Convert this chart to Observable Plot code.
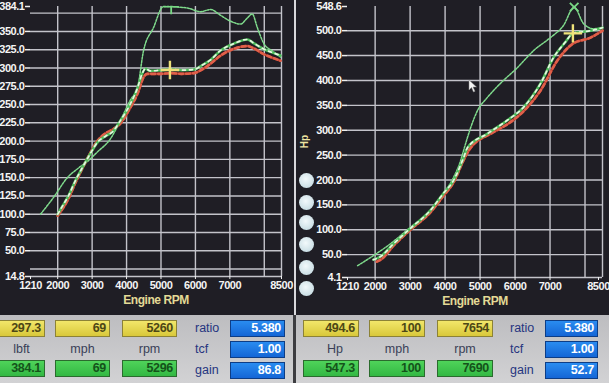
<!DOCTYPE html>
<html><head><meta charset="utf-8">
<script src="https://cdn.jsdelivr.net/npm/d3@7"></script>
<script src="https://cdn.jsdelivr.net/npm/@observablehq/plot@0.6"></script>
<style>
html,body{margin:0;padding:0;background:#1f1e25;}
#wrap{position:relative;width:609px;height:383px;overflow:hidden;background:#1f1e25;
  font-family:"Liberation Sans",Arial,sans-serif;}
.panel{position:absolute;top:0;}
#divider{position:absolute;left:294px;top:0;width:2px;height:315px;background:#d8d8dc;}
#bottom{position:absolute;left:0;top:315px;width:609px;height:68px;background:linear-gradient(#bdbdc0,#d2d2d4);}
#bdiv{position:absolute;left:293px;top:315px;width:3px;height:68px;background:#3c3c40;}
.box{position:absolute;height:17px;box-sizing:border-box;border:1px solid #6f6a3a;text-align:right;
  padding-right:3px;font-weight:bold;font-size:12.5px;line-height:15px;letter-spacing:-0.3px;}
.yel{background:linear-gradient(#f2e66a,#d9c83a);color:#4d4716;border-color:#8c8236;}
.grn{background:linear-gradient(#4fd35a,#33b843);color:#14531a;border-color:#2b6b2e;}
.blu{background:linear-gradient(#2a8cf0,#1466d6);color:#ffffff;border-color:#0d3d86;}
.lab{position:absolute;font-size:12.5px;line-height:15px;text-align:center;color:#3a3f58;}
.blab{position:absolute;font-size:12.5px;line-height:15px;color:#263580;}
.circ{position:absolute;width:15px;height:15px;border-radius:50%;
  background:radial-gradient(circle at 45% 40%,#f2f9fb,#bcd5dd);}
#hp{position:absolute;left:298px;top:136px;color:#efe6a2;font-size:10px;font-weight:bold;transform:rotate(-90deg);}
</style></head>
<body><div id="wrap"></div>
<script>
// ---------- axis ticks / grid ----------
const rpmTicks = [1210, 2000, 3000, 4000, 5000, 6000, 7000];
const rpmEndTick = [8500];
const rpmGrid = [2000, 3000, 4000, 5000, 6000, 7000, 8000, 8500];
const tqTicks = [14.8, 50, 75, 100, 125, 150, 175, 200, 225, 250, 275, 300, 325, 350, 384.1];
const tqGrid = [25, 50, 75, 100, 125, 150, 175, 200, 225, 250, 275, 300, 325, 350, 375];
const hpTicks = [4.1, 50, 100, 150, 200, 250, 300, 350, 400, 450, 500, 548.6];
const hpGrid = [50, 100, 150, 200, 250, 300, 350, 400, 450, 500];

// ---------- torque (lbft) ----------
const tqThinRpm = [1500, 1880, 2280, 2600, 2860, 3150, 3530, 3820, 4110, 4320, 4490, 4780, 5070, 5300, 5560, 5770, 6150, 6440, 6730, 7020, 7310, 7500, 7650, 7800, 7980, 8240, 8470];
const tqThinVal = [100, 123, 150, 163, 172, 185, 203, 228, 256, 273, 323, 355, 384, 384, 383, 382, 377, 380, 372, 364, 360, 368, 374, 355, 334, 323, 315];
const tqDashRpm = [2000, 2150, 2310, 2515, 2720, 2950, 3150, 3400, 3600, 3820, 4100, 4320, 4450, 4550, 4690, 5000, 5300, 5600, 5960, 6200, 6440, 6730, 7100, 7510, 7690, 7980, 8240, 8470];
const tqDashVal = [100, 112, 125, 146, 164, 183, 198, 207, 213, 228, 250, 273, 292, 299, 296, 297, 298, 297, 298, 304, 311, 324, 333, 339, 334, 326, 321, 317];
const tqRedRpm = [2000, 2150, 2310, 2515, 2720, 2950, 3150, 3400, 3600, 3820, 4100, 4320, 4500, 4600, 5000, 5300, 5600, 5960, 6200, 6440, 6730, 7100, 7510, 7690, 7980, 8240, 8470];
const tqRedVal = [98, 108, 121, 143, 163, 184, 200, 211, 216, 224, 245, 265, 288, 292, 292, 293, 292, 293, 298, 306, 317, 326, 330, 327, 319, 314, 310];

// ---------- power (Hp) ----------
const hpThinRpm = [1500, 1950, 2440, 3010, 3500, 3870, 4240, 4440, 4540, 4730, 4930, 5210, 5580, 6070, 6530, 7010, 7380, 7690, 7960, 8240, 8500];
const hpThinVal = [28, 48, 72, 105, 133, 165, 205, 238, 262, 305, 340, 366, 394, 426, 460, 486, 510, 547, 514, 504, 506];
const hpDashRpm = [1950, 2150, 2500, 3010, 3580, 3950, 4240, 4530, 4640, 5210, 5780, 6240, 6730, 7100, 7450, 7654, 8160, 8500];
const hpDashVal = [40, 46, 70, 103, 139, 173, 199, 245, 265, 293, 320, 346, 394, 446, 478, 494.6, 500, 506];
const hpRedRpm = [2050, 2200, 2500, 3010, 3580, 3950, 4240, 4530, 4700, 5380, 5780, 6240, 6730, 7210, 7654, 8160, 8500];
const hpRedVal = [36, 42, 66, 100, 135, 168, 195, 240, 262, 296, 312, 338, 380, 440, 474, 486, 500];

// ---------- readouts ----------
const tqCursor = ["297.3", "69", "5260"];
const tqPeak = ["384.1", "69", "5296"];
const tqNames = ["lbft", "mph", "rpm"];
const tqSettings = ["5.380", "1.00", "86.8"];
const hpCursor = ["494.6", "100", "7654"];
const hpPeak = ["547.3", "100", "7690"];
const hpNames = ["Hp", "mph", "rpm"];
const hpSettings = ["5.380", "1.00", "52.7"];
const settingNames = ["ratio", "tcf", "gain"];

const zip = (xs, ys) => xs.map((x, i) => ({rpm: x, v: ys[i]}));
const FONT = '"Liberation Sans",Arial,sans-serif';
const GRID = "#c3c3ca";

function chart({w, ml, mr, ydom, yTicks, yGrid, thin, dash, red, cursor, peak, peakSymbol, peakR, peakClip, endDx}) {
  return Plot.plot({
    width: w, height: 315,
    marginLeft: ml, marginRight: mr, marginTop: 6, marginBottom: 315 - (ydom[2]),
    style: {background: "transparent", color: "#f4f4f4", fontFamily: FONT, fontSize: "11px", fontWeight: "bold", letterSpacing: "-0.45px", overflow: "visible"},
    x: {domain: [1210, 8500]},
    y: {domain: [ydom[0], ydom[1]]},
    marks: [
      Plot.ruleY(yGrid, {stroke: GRID, strokeWidth: 1.4}),
      Plot.ruleX(rpmGrid, {stroke: GRID, strokeWidth: 1.4}),
      Plot.ruleY([ydom[0]], {stroke: GRID, strokeWidth: 1.6}),
      Plot.axisY(yTicks, {tickFormat: d => d.toFixed(1), tickSize: 5, tickPadding: 1, label: null, stroke: "#eeeeee", strokeWidth: 1.5}),
      Plot.axisX(rpmTicks, {tickFormat: d => String(d), tickSize: 3, tickPadding: 2, label: null, stroke: "#eeeeee"}),
      Plot.axisX(rpmEndTick, {tickFormat: d => String(d), tickSize: 3, tickPadding: 2, label: null, stroke: "#eeeeee", dx: endDx}),
      Plot.text(["Engine RPM"], {text: d => d, frameAnchor: "bottom", dy: 27, fill: "#e4da96", fontSize: 12}),
      Plot.line(thin, {x: "rpm", y: "v", stroke: "#7fda8c", strokeWidth: 1.5, strokeDasharray: "2,1.4", curve: "monotone-x"}),
      Plot.line(red, {x: "rpm", y: "v", stroke: "#a83528", strokeWidth: 2.6, curve: "monotone-x"}),
      Plot.line(red, {x: "rpm", y: "v", stroke: "#e0604a", strokeWidth: 2.6, strokeDasharray: "4,3", curve: "monotone-x"}),
      Plot.line(dash, {x: "rpm", y: "v", stroke: "#4fbf5c", strokeWidth: 2.6, curve: "monotone-x"}),
      Plot.line(dash, {x: "rpm", y: "v", stroke: "#e9f5e2", strokeWidth: 1.7, strokeDasharray: "3,4", curve: "monotone-x"}),
      Plot.dot([cursor], {x: "rpm", y: "v", symbol: "plus", r: 6, stroke: "#efe27a", strokeWidth: 2.4}),
      Plot.dot([peak], {x: "rpm", y: "v", symbol: peakSymbol, r: peakR, stroke: "#78d884", strokeWidth: 1.8, clip: peakClip})
    ]
  });
}

const wrap = document.getElementById("wrap");

const left = chart({
  w: 294, ml: 30, mr: 13, ydom: [14.8, 384.1, 276],
  yTicks: tqTicks, yGrid: tqGrid,
  thin: zip(tqThinRpm, tqThinVal), dash: zip(tqDashRpm, tqDashVal), red: zip(tqRedRpm, tqRedVal),
  cursor: {rpm: +tqCursor[2], v: +tqCursor[0]}, peak: {rpm: +tqPeak[2], v: +tqPeak[0]},
  peakSymbol: "plus", peakR: 5, peakClip: true, endDx: 0
});
left.classList.add("panel"); left.style.left = "0px";
wrap.appendChild(left);

const right = chart({
  w: 311, ml: 49, mr: 7, ydom: [4.1, 548.6, 277],
  yTicks: hpTicks, yGrid: hpGrid,
  thin: zip(hpThinRpm, hpThinVal), dash: zip(hpDashRpm, hpDashVal), red: zip(hpRedRpm, hpRedVal),
  cursor: {rpm: +hpCursor[2], v: +hpCursor[0]}, peak: {rpm: +hpPeak[2], v: +hpPeak[0]},
  peakSymbol: "times", peakR: 4, peakClip: false, endDx: -4
});
right.classList.add("panel"); right.style.left = "298px";
wrap.appendChild(right);

// decorations: divider, Hp label, side buttons, mouse pointer
wrap.insertAdjacentHTML("beforeend", `<div id="divider"></div><div id="hp">Hp</div>`);
[180, 202, 222, 244, 267, 288].forEach(cy => {
  wrap.insertAdjacentHTML("beforeend", `<div class="circ" style="left:299px;top:${cy - 7.5}px"></div>`);
});
wrap.insertAdjacentHTML("beforeend",
  `<svg style="position:absolute;left:468px;top:79px" width="10" height="14"><path d="M1 1 L1 11 L3.5 8.5 L5.5 13 L7 12.3 L5 8 L8.5 8 Z" fill="#f4f4f4" stroke="#888" stroke-width="0.5"/></svg>`);

// bottom readout panel
wrap.insertAdjacentHTML("beforeend", `<div id="bottom"></div><div id="bdiv"></div>`);
function readouts(colX, colW, labX, blueX, blueW, cursor, peak, names, settings) {
  cursor.forEach((t, i) => wrap.insertAdjacentHTML("beforeend",
    `<div class="box yel" style="left:${colX[i]}px;top:320px;width:${colW}px">${t}</div>`));
  names.forEach((t, i) => wrap.insertAdjacentHTML("beforeend",
    `<div class="lab" style="left:${colX[i] + (i === 0 ? 4 : 0)}px;top:342px;width:${colW}px">${t}</div>`));
  peak.forEach((t, i) => wrap.insertAdjacentHTML("beforeend",
    `<div class="box grn" style="left:${colX[i]}px;top:360px;width:${colW}px">${t}</div>`));
  settingNames.forEach((t, i) => wrap.insertAdjacentHTML("beforeend",
    `<div class="blab" style="left:${labX}px;top:${321 + i * 21}px">${t}</div>`));
  settings.forEach((t, i) => wrap.insertAdjacentHTML("beforeend",
    `<div class="box blu" style="left:${blueX}px;top:${320 + i * 21}px;width:${blueW}px">${t}</div>`));
}
readouts([-10, 55, 122], 55, 195, 230, 55, tqCursor, tqPeak, tqNames, tqSettings);
readouts([303, 369, 437], 56, 510, 545, 53, hpCursor, hpPeak, hpNames, hpSettings);
</script></body></html>
